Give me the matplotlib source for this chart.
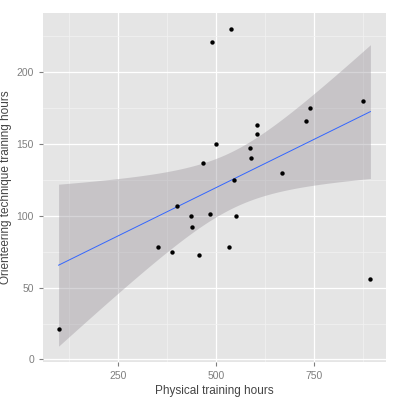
import numpy as np
import matplotlib
matplotlib.use("Agg")
import matplotlib.pyplot as plt
from matplotlib.ticker import MultipleLocator

plt.rcParams["font.family"] = ["Liberation Sans", "DejaVu Sans"]

# physical vs orienteering technique training hours
physical = [98, 352, 386, 399, 435, 439, 457, 485, 550, 532, 893,
            489, 537, 499, 467, 586, 589, 605, 605, 668, 545, 729, 739, 875]
technique = [21, 78, 75, 107, 100, 92, 73, 101, 100, 78, 56,
             221, 230, 150, 137, 147, 140, 163, 157, 130, 125, 166, 175, 180]

x_ticks = [250, 500, 750]
y_ticks = [0, 50, 100, 150, 200]

x = np.array(physical, dtype=float)
y = np.array(technique, dtype=float)

# linear fit + 95% confidence band like geom_smooth(method="lm")
n = len(x)
b1, b0 = np.polyfit(x, y, 1)
resid = y - (b0 + b1 * x)
s = np.sqrt(np.sum(resid ** 2) / (n - 2))
sxx = np.sum((x - x.mean()) ** 2)
t = 2.074  # t(0.975, df=22)
xs = np.linspace(x.min(), x.max(), 80)
fit = b0 + b1 * xs
se = s * np.sqrt(1.0 / n + (xs - x.mean()) ** 2 / sxx)

fig = plt.figure(figsize=(4, 3.99), dpi=100)
ax = fig.add_axes([0.1075, 0.0927, 0.8575, 0.874])
ax.set_facecolor("#E5E5E5")

ax.xaxis.set_major_locator(MultipleLocator(250))
ax.xaxis.set_minor_locator(MultipleLocator(125))
ax.yaxis.set_major_locator(MultipleLocator(50))
ax.yaxis.set_minor_locator(MultipleLocator(25))
ax.grid(which="major", color="white", linewidth=0.9)
ax.grid(which="minor", color="#F2F2F2", linewidth=0.5)
ax.set_axisbelow(True)

ax.fill_between(xs, fit - t * se, fit + t * se, color="#9A949C", alpha=0.4, linewidth=0)
ax.plot(xs, fit, color="#3366FF", linewidth=0.7)
ax.scatter(x, y, s=10, color="black", zorder=3, linewidths=0)

xr = x.max() - x.min()
ax.set_xlim(x.min() - 0.05 * xr, x.max() + 0.05 * xr)
lo = min(y.min(), (fit - t * se).min())
hi = max(y.max(), (fit + t * se).max())
ax.set_ylim(lo - 0.05 * (hi - lo), hi + 0.05 * (hi - lo))

ax.set_xticks(x_ticks)
ax.set_yticks(y_ticks)
for sp in ax.spines.values():
    sp.set_visible(False)
ax.tick_params(which="major", length=3, color="#7F7F7F", labelcolor="#7F7F7F",
               labelsize=7.5, width=0.8)
ax.tick_params(which="minor", length=0)

ax.set_xlabel("Physical training hours", fontsize=8.5, color="#444444", labelpad=3)
ax.set_ylabel("Orienteering technique training hours", fontsize=8.5, color="#444444", labelpad=3)

fig.savefig("out.png", dpi=100, facecolor="white")
